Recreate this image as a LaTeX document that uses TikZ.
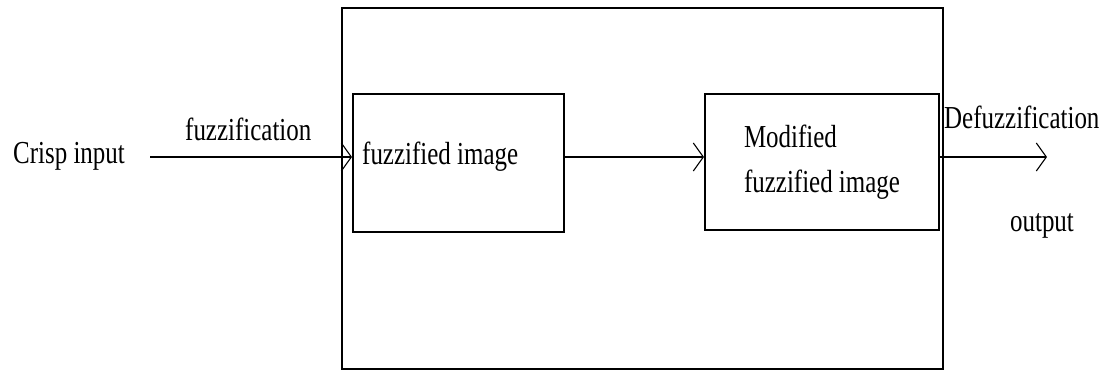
\documentclass[tikz,border=0pt]{standalone}
\usepackage{fontspec}
\setmainfont[FakeStretch=0.78]{Liberation Serif}
\usetikzlibrary{arrows.meta}
\begin{document}
\begin{tikzpicture}[x=1pt,y=-1pt,
  box/.style={draw,line width=2pt,anchor=north west,inner sep=0pt},
  txt/.style={font=\fontsize{32}{45}\selectfont,inner sep=0pt},
  tip/.style={-{Straight Barb[length=10pt,width=28pt,line width=1.1pt]}},
  arr/.style={line width=2pt,tip}]
\useasboundingbox (0,0) rectangle (1109,371);
\node[box,minimum width=601pt,minimum height=361pt] (outer) at (341,7) {};
\node[box,minimum width=211pt,minimum height=138pt] (box1) at (352,93) {};
\node[box,minimum width=234pt,minimum height=136pt,align=left,font=\fontsize{32}{45}\selectfont] (box2) at (704,93) {Modified\\fuzzified image};
\node[txt,anchor=west] (crisp) at (13,156) {Crisp input};
\coordinate (cin) at (150,157);
\node[txt,anchor=west] (fuzz) at (185,129) {fuzzification};
\node[txt,anchor=west] (fimg) at (362,157) {fuzzified image};
\node[txt,anchor=west] (defuzz) at (944,117) {Defuzzification};
\node[txt] (outp) at (1042,226) {output};
\coordinate (oend) at (1047,157);
\draw[arr] (cin) -- (cin -| box1.west);
\draw[arr] (box1.east |- cin) -- (box2.west |- cin);
\draw[arr] (box2.east |- cin) -- (oend);
\end{tikzpicture}
\end{document}
